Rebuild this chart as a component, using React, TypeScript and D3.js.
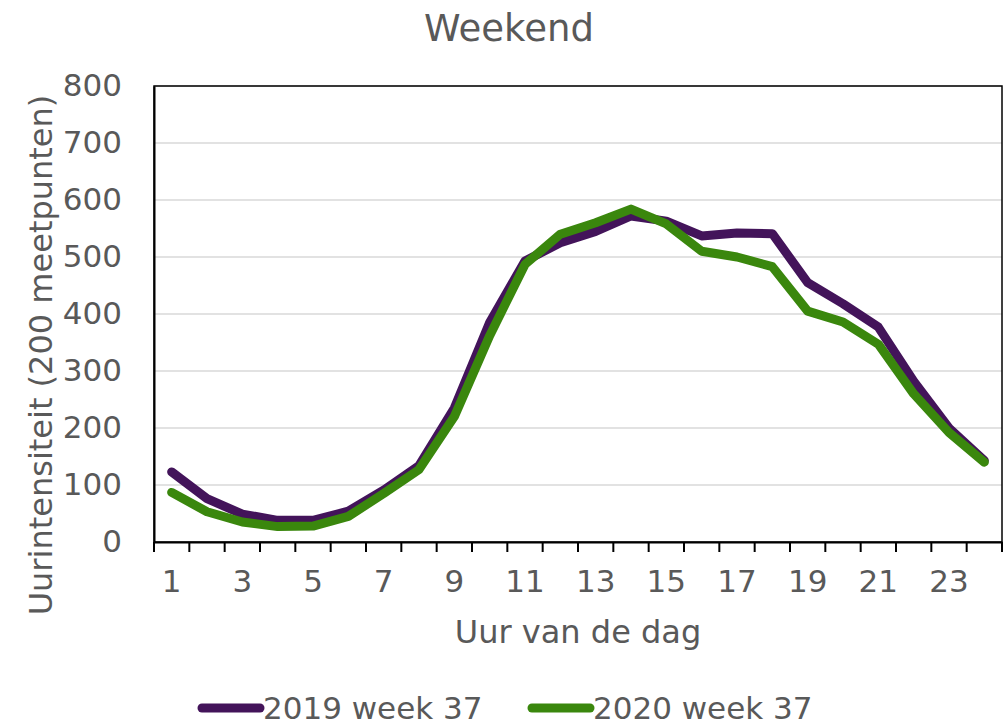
import { useEffect, useRef } from "react";
import * as d3 from "d3";

const WIDTH = 1005;
const HEIGHT = 725;
const MARGIN = { top: 86, right: 3, bottom: 183, left: 154 };
const FONT = "Verdana, 'DejaVu Sans', sans-serif";
const TEXT_COLOR = "#595959";

const hours = d3.range(1, 25).map(String);
const hourLabels = ["1", "3", "5", "7", "9", "11", "13", "15", "17", "19", "21", "23"];
const yTicks = [0, 100, 200, 300, 400, 500, 600, 700, 800];

const values2019 = [123, 76, 49, 38, 38, 54, 91, 134, 235, 385, 493, 525, 545, 572, 563, 537, 542, 541, 455, 418, 377, 282, 200, 143];
const values2020 = [87, 53, 35, 27, 28, 45, 85, 127, 220, 362, 487, 540, 560, 584, 558, 510, 500, 483, 405, 386, 347, 260, 192, 140];

const seriesNames = ["2019 week 37", "2020 week 37"];
const seriesColors = ["#43145a", "#3a870d"];

const App = () => {
  const ref = useRef<SVGSVGElement>(null);

  useEffect(() => {
    const svg = d3.select(ref.current);
    svg.selectAll("*").remove();

    const innerW = WIDTH - MARGIN.left - MARGIN.right;
    const innerH = HEIGHT - MARGIN.top - MARGIN.bottom;

    const x = d3.scaleBand().domain(hours).range([0, innerW]);
    const y = d3.scaleLinear().domain([0, 800]).range([innerH, 0]);

    svg
      .append("text")
      .attr("x", 509)
      .attr("y", 41)
      .attr("text-anchor", "middle")
      .attr("font-family", FONT)
      .attr("font-size", 37)
      .attr("fill", TEXT_COLOR)
      .text("Weekend");

    const g = svg.append("g").attr("transform", `translate(${MARGIN.left},${MARGIN.top})`);

    // gridlines
    g.selectAll(".grid")
      .data(yTicks.filter((d) => d > 0))
      .join("line")
      .attr("x1", 0)
      .attr("x2", innerW)
      .attr("y1", (d) => y(d))
      .attr("y2", (d) => y(d))
      .attr("stroke", "#d9d9d9")
      .attr("stroke-width", 1.5);

    // frame
    g.append("rect")
      .attr("width", innerW)
      .attr("height", innerH)
      .attr("fill", "none")
      .attr("stroke", "#000")
      .attr("stroke-width", 1.5);

    // y axis
    const yAxis = g
      .append("g")
      .call(d3.axisLeft(y).tickValues(yTicks).tickSize(0).tickPadding(32));
    yAxis.select(".domain").attr("stroke", "#000").attr("stroke-width", 2);
    yAxis
      .selectAll("text")
      .attr("font-family", FONT)
      .attr("font-size", 31)
      .attr("fill", TEXT_COLOR);

    // x axis
    const xAxis = g
      .append("g")
      .attr("transform", `translate(0,${innerH})`)
      .call(
        d3
          .axisBottom(x)
          .tickSize(0)
          .tickPadding(28)
          .tickFormat((d) => (hourLabels.includes(d) ? d : ""))
      );
    xAxis.select(".domain").attr("stroke", "#000").attr("stroke-width", 2);
    xAxis
      .selectAll("text")
      .attr("font-family", FONT)
      .attr("font-size", 31)
      .attr("fill", TEXT_COLOR);

    // boundary ticks
    g.selectAll(".xtick")
      .data(d3.range(0, hours.length + 1))
      .join("line")
      .attr("x1", (i) => i * x.step())
      .attr("x2", (i) => i * x.step())
      .attr("y1", innerH)
      .attr("y2", innerH + 10)
      .attr("stroke", "#000")
      .attr("stroke-width", 2);

    // axis titles
    svg
      .append("text")
      .attr("x", 578)
      .attr("y", 643)
      .attr("text-anchor", "middle")
      .attr("font-family", FONT)
      .attr("font-size", 32)
      .attr("fill", TEXT_COLOR)
      .text("Uur van de dag");

    svg
      .append("text")
      .attr("transform", `translate(52,355) rotate(-90)`)
      .attr("text-anchor", "middle")
      .attr("font-family", FONT)
      .attr("font-size", 32)
      .attr("fill", TEXT_COLOR)
      .text("Uurintensiteit (200 meetpunten)");

    // lines
    const line = d3
      .line<number>()
      .x((_, i) => (x(hours[i]) ?? 0) + x.bandwidth() / 2)
      .y((d) => y(d));

    [values2019, values2020].forEach((vals, i) => {
      g.append("path")
        .datum(vals)
        .attr("d", line)
        .attr("fill", "none")
        .attr("stroke", seriesColors[i])
        .attr("stroke-width", 9)
        .attr("stroke-linejoin", "round")
        .attr("stroke-linecap", "round");
    });

    // legend
    const legendX = [202, 532];
    seriesNames.forEach((name, i) => {
      const lg = svg.append("g").attr("transform", `translate(${legendX[i]},708)`);
      lg.append("line")
        .attr("x1", 0)
        .attr("x2", 58)
        .attr("y1", 0)
        .attr("y2", 0)
        .attr("stroke", seriesColors[i])
        .attr("stroke-width", 9)
        .attr("stroke-linecap", "round");
      lg.append("text")
        .attr("x", 61)
        .attr("y", 0)
        .attr("dy", "0.35em")
        .attr("font-family", FONT)
        .attr("font-size", 31)
        .attr("fill", TEXT_COLOR)
        .text(name);
    });
  }, []);

  return (
    <svg
      ref={ref}
      width={WIDTH}
      height={HEIGHT}
      style={{ display: "block", position: "absolute", left: 0, top: 0 }}
    />
  );
};

export default App;
